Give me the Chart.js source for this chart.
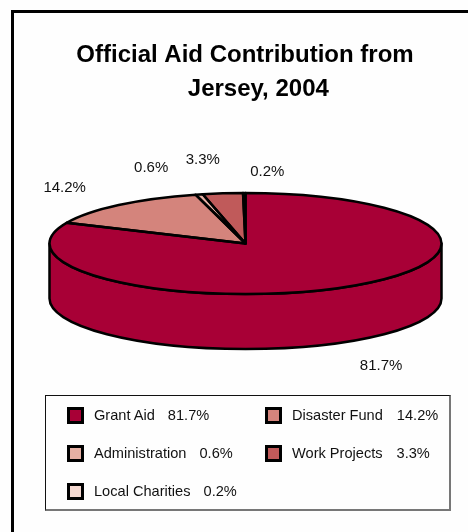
<!DOCTYPE html>
<html>
<head>
<meta charset="utf-8">
<title>Official Aid Contribution from Jersey, 2004</title>
<script src="https://cdn.jsdelivr.net/npm/chart.js@4"></script>
<style>
  html, body { margin: 0; padding: 0; background: #fefefe; overflow: hidden; }
  #wrap { position: relative; width: 468px; height: 532px; overflow: hidden; font-family: "Liberation Sans", Arial, sans-serif; }
  #frame { position: absolute; left: 11px; top: 10px; width: 470px; height: 540px; border: 3px solid #000; box-sizing: border-box; }
  canvas { position: absolute; left: 0; top: 0; }
  #legend {
    position: absolute; left: 45px; top: 395px; width: 406px; height: 116px; box-sizing: border-box;
    border-left: 1px solid #111; border-top: 1px solid #111;
    border-right: 2px solid #777; border-bottom: 2px solid #777;
  }
  .item { position: absolute; height: 17px; line-height: 17px; font-size: 14.6px; color: #111; white-space: pre; }
  .swatch { position: absolute; left: 0; top: 0; width: 17px; height: 17px; box-sizing: border-box; border: 3px solid #000; }
  .text { position: absolute; left: 27px; top: 0; }
</style>
</head>
<body>
<div id="wrap">
  <div id="frame"></div>
  <canvas id="myChart" width="468" height="532"></canvas>
  <div id="legend"></div>
</div>
<script>
// Data
const categories = ["Grant Aid", "Disaster Fund", "Administration", "Work Projects", "Local Charities"];
const shares = [81.7, 14.2, 0.6, 3.3, 0.2];
const colours = ["#a80036", "#d4847c", "#e6b0a4", "#c05a5a", "#f4d8d0"];
const titleLines = ["Official Aid Contribution from", "    Jersey, 2004"];

// Shape of the tilted pie
const PIE = { x: 245.5, y: 243.5, rx: 196, ry: 50.5, depth: 55 };
// Nudges for the outside labels, from the rim at each slice's middle
const labelNudge = [[29, 79.5], [-54, -17.5], [-48, -26.5], [-20, -33.5], [23, -21.5]];

function squash(ctx, arc) {
  ctx.translate(PIE.x, PIE.y);
  ctx.scale(PIE.rx / arc.outerRadius, PIE.ry / arc.outerRadius);
  ctx.translate(-arc.x, -arc.y);
}

const tiltedPie = {
  id: 'tiltedPie',
  beforeDatasetsDraw(chart) {
    const ctx = chart.ctx;
    const arcs = chart.getDatasetMeta(0).data;

    // Side wall: only the part of each slice facing the viewer
    ctx.save();
    ctx.strokeStyle = '#000';
    ctx.lineWidth = 2.5;
    ctx.lineJoin = 'round';
    arcs.forEach((arc, i) => {
      const a = Math.max(arc.startAngle, 0);
      const b = Math.min(arc.endAngle, Math.PI);
      if (b <= a) return;
      ctx.beginPath();
      ctx.ellipse(PIE.x, PIE.y, PIE.rx, PIE.ry, 0, a, b);
      ctx.ellipse(PIE.x, PIE.y + PIE.depth, PIE.rx, PIE.ry, 0, b, a, true);
      ctx.closePath();
      ctx.fillStyle = colours[i];
      ctx.fill();
      ctx.stroke();
    });
    ctx.restore();

    // Slices themselves are drawn by Chart.js, squashed into the ellipse
    ctx.save();
    squash(ctx, arcs[0]);
  },
  afterDatasetsDraw(chart) {
    const ctx = chart.ctx;
    ctx.restore();
    const arcs = chart.getDatasetMeta(0).data;

    // Outlines: build the path squashed, stroke it unsquashed so lines stay even
    ctx.save();
    ctx.strokeStyle = '#000';
    ctx.lineWidth = 2.5;
    ctx.lineJoin = 'round';
    arcs.forEach(arc => {
      ctx.save();
      squash(ctx, arc);
      ctx.beginPath();
      ctx.moveTo(arc.x, arc.y);
      ctx.arc(arc.x, arc.y, arc.outerRadius, arc.startAngle, arc.endAngle);
      ctx.closePath();
      ctx.restore();
      ctx.stroke();
    });
    ctx.restore();

    // Percent labels outside the rim
    ctx.save();
    ctx.font = '15px "Liberation Sans", Arial, sans-serif';
    ctx.fillStyle = '#111';
    ctx.textAlign = 'center';
    ctx.textBaseline = 'middle';
    arcs.forEach((arc, i) => {
      const mid = (arc.startAngle + arc.endAngle) / 2;
      const x = PIE.x + PIE.rx * Math.cos(mid) + labelNudge[i][0];
      const y = PIE.y + PIE.ry * Math.sin(mid) + labelNudge[i][1];
      ctx.fillText(shares[i].toFixed(1) + '%', x, y);
    });
    ctx.restore();
  }
};

new Chart(document.getElementById('myChart').getContext('2d'), {
  type: 'pie',
  data: {
    labels: categories,
    datasets: [{ data: shares, backgroundColor: colours, borderWidth: 0, clip: false }]
  },
  options: {
    responsive: false,
    animation: false,
    layout: { padding: { left: 22, top: 0 } },
    plugins: {
      legend: { display: false },
      tooltip: { enabled: false },
      title: {
        display: true,
        text: titleLines,
        color: '#000',
        font: { family: '"Liberation Sans", Arial, sans-serif', size: 24, weight: 'bold', lineHeight: 1.42 },
        padding: { top: 38, bottom: 10 }
      }
    }
  },
  plugins: [tiltedPie]
});

// Two column legend with the share beside each name
const legendSlots = [[21, 11], [219, 11], [21, 49], [219, 49], [21, 87]];
const legendGap = [13, 14, 13, 14, 13];
const legendEl = document.getElementById('legend');
categories.forEach((name, i) => {
  const item = document.createElement('div');
  item.className = 'item';
  item.style.left = legendSlots[i][0] + 'px';
  item.style.top = legendSlots[i][1] + 'px';

  const swatch = document.createElement('div');
  swatch.className = 'swatch';
  swatch.style.background = colours[i];
  item.appendChild(swatch);

  const text = document.createElement('div');
  text.className = 'text';
  text.textContent = name;
  const share = document.createElement('span');
  share.style.marginLeft = legendGap[i] + 'px';
  share.textContent = shares[i].toFixed(1) + '%';
  text.appendChild(share);
  item.appendChild(text);

  legendEl.appendChild(item);
});
</script>
</body>
</html>
